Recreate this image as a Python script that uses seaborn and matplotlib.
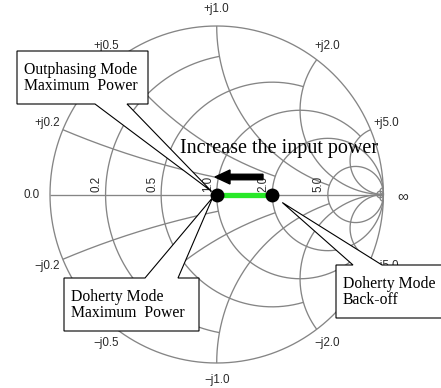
import numpy as np
import pandas as pd
import matplotlib
matplotlib.use("Agg")
import matplotlib.pyplot as plt
from matplotlib.patches import Polygon, FancyArrow
import seaborn as sns

# Smith chart grid values and their labels
grid_values = [0.2, 0.5, 1.0, 2.0, 5.0]
real_tick_labels = ["0.2", "0.5", "1.0", "2.0", "5.0"]
pos_imag_labels = ["+j0.2", "+j0.5", "+j1.0", "+j2.0", "+j5.0"]
neg_imag_labels = ["\u2212j0.2", "\u2212j0.5", "\u2212j1.0", "\u2212j2.0", "\u2212j5.0"]
far_value = 50.0

# normalised load impedance seen by the main PA (back-off -> maximum power)
point_names = ["Doherty Mode Back-off", "Doherty Mode Maximum Power"]
load_r = [2.0, 1.0]
load_x = [0.0, 0.0]

sns.set_theme(style="white")
plt.rcParams["font.family"] = ["Liberation Sans", "DejaVu Sans"]

W, H, DPI = 441, 388, 100
CX, CY, SX, SY = 216.7, 194.5, 166.7, 168.5

fig = plt.figure(figsize=(W / DPI, H / DPI), dpi=DPI)
ax = fig.add_axes([0, 0, 1, 1])
ax.set_xlim(-CX / SX, (W - CX) / SX)
ax.set_ylim(-(H - CY) / SY, CY / SY)
ax.set_axis_off()


def P(px, py):
    return ((px - CX) / SX, (CY - py) / SY)


def gamma(r, x):
    z = np.asarray(r, float) + 1j * np.asarray(x, float)
    return (z - 1) / (z + 1)


def stretch(u):
    return u / (1 - u)


def squash(v):
    return 0.99995 if np.isinf(v) else v / (1 + v)


def r_circle(r, xlim, n=1500):
    u = np.linspace(-squash(xlim), squash(xlim), n)
    x = np.sign(u) * stretch(np.abs(u))
    return gamma(np.full_like(x, r), x)


def x_arc(x, rlim, n=1500):
    u = np.linspace(0, squash(rlim), n)
    r = stretch(u)
    return gamma(r, np.full_like(r, x))


grid_kw = dict(color="#858585", lw=0.95, zorder=1, solid_capstyle="butt")

# outer circle and real axis
g = r_circle(0.0, np.inf, 3000)
ax.plot(g.real, g.imag, **grid_kw)
ax.plot([-1, 1], [0, 0], **grid_kw)

# fancy grid: each line stops two grid values further on
n = len(grid_values)
for i, v in enumerate(grid_values):
    lim = grid_values[i + 2] if i + 2 < n else np.inf
    g = r_circle(v, lim)
    ax.plot(g.real, g.imag, **grid_kw)
    for s in (1, -1):
        g = x_arc(s * v, lim)
        ax.plot(g.real, g.imag, **grid_kw)

g = r_circle(far_value, np.inf, 400)
ax.plot(g.real, g.imag, **grid_kw)
for s in (1, -1):
    g = x_arc(s * far_value, np.inf, 400)
    ax.plot(g.real, g.imag, **grid_kw)

# labels
lab_kw = dict(fontsize=8.4, color="#2a2a2a", zorder=2)
for v, t in zip(grid_values, real_tick_labels):
    gx = gamma(v, 0).real
    ax.text(gx - 3 / SX, 2 / SY, t, rotation=90, ha="right", va="bottom", **lab_kw)
ax.text(-1 - 18 / SX, 0, "0.0", ha="center", va="center", **lab_kw)
ax.text(1 + 19 / SX, -1.5 / SY, "\u221e", ha="center", va="center",
        fontsize=11, color="#2a2a2a", zorder=2)
for v, tp, tn in zip(grid_values, pos_imag_labels, neg_imag_labels):
    for s, t in ((1, tp), (-1, tn)):
        gg = gamma(0, s * v)
        ax.text(gg.real * (1 + 17 / SX), gg.imag * (1 + 17 / SY), t,
                ha="center", va="center", **lab_kw)

# impedance trajectory and operating points
g_pts = gamma(load_r, load_x)
df = pd.DataFrame({"name": point_names, "re": g_pts.real, "im": g_pts.imag})
sns.lineplot(data=df, x="re", y="im", sort=False, color="#28e828",
             linewidth=3.8, ax=ax, zorder=4, legend=False)
sns.scatterplot(data=df, x="re", y="im", color="black", s=100,
                edgecolor="black", linewidth=0, ax=ax, zorder=6, legend=False)
ax.set_xlabel("")
ax.set_ylabel("")

# direction arrow
a0 = P(263, 177)
a1 = P(215, 177)
ax.add_patch(FancyArrow(a0[0], a0[1], a1[0] - a0[0], 0, width=5.5 / SY,
                        head_width=14 / SY, head_length=15 / SX,
                        length_includes_head=True, color="black", zorder=5))
ax.text(*P(279, 148), "Increase the input power", ha="center", va="center",
        fontsize=14.5, family=["Liberation Serif"], color="black", zorder=5)

# callouts
serif = dict(fontsize=11.3, family=["Liberation Serif"], color="black",
             linespacing=1.05, zorder=8)


def callout(box, base, tip, edge, text, tx, ty):
    x0, y0, x1, y1 = box
    b0, b1 = base
    if edge == "bottom":
        verts = [(x0, y0), (x1, y0), (x1, y1), (b1, y1), tip, (b0, y1), (x0, y1)]
    else:
        verts = [(x0, y0), (b0, y0), tip, (b1, y0), (x1, y0), (x1, y1), (x0, y1)]
    ax.add_patch(Polygon([P(*v) for v in verts], closed=True, facecolor="white",
                         edgecolor="black", lw=0.8, zorder=7))
    ax.text(*P(tx, ty), text, ha="left", va="center", **serif)


g_max = gamma(load_r[1], load_x[1])
g_bo = gamma(load_r[0], load_x[0])
max_px = (CX + g_max.real * SX, CY - g_max.imag * SY)
bo_px = (CX + g_bo.real * SX, CY - g_bo.imag * SY)

callout((17, 51, 148, 104), (95, 127), (max_px[0] - 5, max_px[1] - 3), "bottom",
        "Outphasing Mode\nMaximum  Power", 24, 78)
callout((64, 278, 199, 331), (145, 178), (max_px[0] - 4, max_px[1] + 3), "top",
        "Doherty Mode\nMaximum  Power", 71, 305)
callout((336, 265, 446, 318), (353, 382), (bo_px[0] + 10, bo_px[1] + 8), "top",
        "Doherty Mode\nBack-off", 343, 292)

fig.savefig("out.png", dpi=DPI)
